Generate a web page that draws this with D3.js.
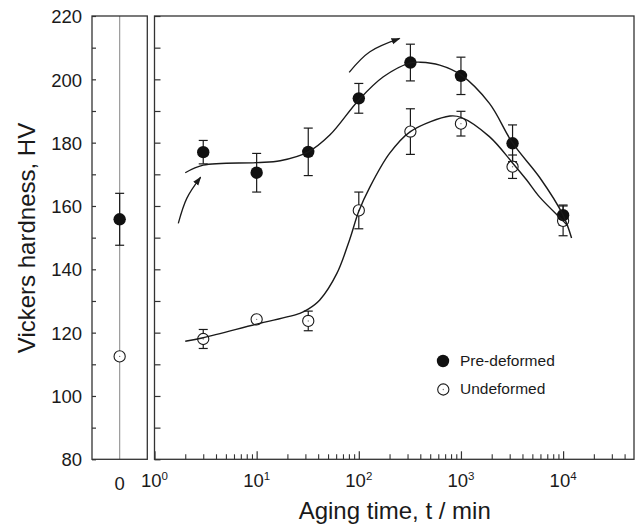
<!DOCTYPE html>
<html><head><meta charset="utf-8">
<script src="https://cdn.jsdelivr.net/npm/d3@7"></script>
<style>
html,body{margin:0;padding:0;background:#fff;}
svg{display:block;font-family:"Liberation Sans",Arial,Helvetica,sans-serif;}
</style></head>
<body>
<svg id="chart" width="638" height="524"></svg>
<script>
// ---- data ----
const agingTimes = [3, 10, 32, 100, 320, 1000, 3200, 10000];
const preDeformedHV = [177, 170.5, 177.1, 194, 205.3, 201.1, 179.8, 157.1];
const preDeformedErr = [3.7, 6.1, 7.5, 4.7, 5.8, 5.9, 5.8, 3.2];
const undeformedHV = [118, 124.2, 123.7, 158.6, 183.5, 186, 172.4, 155.3];
const undeformedErr = [3, 0, 3.1, 5.8, 7.2, 3.9, 3.7, 4.7];
const zeroCategory = ["0"];
const zeroPreHV = [155.8];
const zeroPreErr = [8.2];
const zeroUndHV = [112.5];
const zeroUndErr = [0];
const preFitT = [2.0, 3, 10, 17, 32, 52, 100, 174, 320, 400, 620, 1000, 1900, 3200, 5900, 10000, 12100];
const preFitHV = [170.5, 172.9, 173.7, 174.3, 177.1, 182.4, 193.5, 200.8, 205.2, 205.4, 204.5, 201.4, 192.4, 179.9, 169.0, 157.1, 149.9];
const undFitT = [2.0, 3, 10, 26.5, 32, 41.5, 61, 81, 100, 129, 200, 320, 780, 1000, 1900, 3200, 4400, 5900, 10000, 11100];
const undFitHV = [117.3, 118.4, 122.7, 126.1, 127.4, 130.3, 138.7, 149.2, 158.3, 166.1, 176.6, 183.5, 188.4, 188.0, 181.9, 173.6, 168.2, 162.8, 155.3, 153.7];
const arrow1T = [1.71, 2.07, 2.83];
const arrow1HV = [154.5, 162.4, 169.1];
const arrow2T = [80.5, 128.5, 251];
const arrow2HV = [202.2, 208.7, 212.9];
const yTicks = [80, 90, 100, 110, 120, 130, 140, 150, 160, 170, 180, 190, 200, 210, 220];
const xMajorExp = [0, 1, 2, 3, 4];
const legendLabels = ["Pre-deformed", "Undeformed"];
const yTitle = "Vickers hardness, HV";
const xTitle = "Aging time, t / min";

// ---- layout ----
const svg = d3.select("#chart");
const plotTop = 16, plotBottom = 459.3;
const y = d3.scaleLinear().domain([80, 220]).range([plotBottom, plotTop]);
const x = d3.scaleLog().domain([1, 50000]).range([154.5, 634.5]);
const x0 = d3.scalePoint().domain(zeroCategory).range([92, 147.3]).padding(0.5);
const ink = "#1a1a1a", frame = "#333";

svg.append("rect").attr("width", 638).attr("height", 524).attr("fill", "#fff");

// left panel
svg.append("line").attr("x1", x0("0")).attr("x2", x0("0")).attr("y1", plotTop).attr("y2", plotBottom)
  .attr("stroke", "#9a9a9a").attr("stroke-width", 1.2);

const yAxisL = d3.axisLeft(y).tickValues(yTicks).tickSize(-4).tickPadding(10)
  .tickFormat(d => d % 20 === 0 ? d : "");
const gL = svg.append("g").attr("transform", `translate(92,0)`).call(yAxisL);
gL.select(".domain").remove();
gL.selectAll(".tick line").attr("stroke", frame).attr("stroke-width", 1.2);
gL.selectAll(".tick text").attr("font-size", 18.5).attr("fill", ink)
  .attr("font-family", "Liberation Sans, Arial, sans-serif").attr("dy", "0.36em");

svg.append("rect").attr("x", 92).attr("y", plotTop).attr("width", 147.3 - 92).attr("height", plotBottom - plotTop)
  .attr("fill", "none").attr("stroke", frame).attr("stroke-width", 1.3);

// main panel axes
const yAxisM = d3.axisRight(y).tickValues(yTicks).tickSize(6).tickFormat("");
const gM = svg.append("g").attr("transform", `translate(${x(1)},0)`).call(yAxisM);
gM.select(".domain").remove();
gM.selectAll(".tick line").attr("stroke", frame).attr("stroke-width", 1.2);

const minorTicks = [];
xMajorExp.forEach(e => { for (let m = 2; m <= 9; m++) { const v = m * Math.pow(10, e); if (v < 50000) minorTicks.push(v); } });
const xAxisMinor = d3.axisBottom(x).tickValues(minorTicks).tickSize(-5).tickFormat("");
const gxm = svg.append("g").attr("transform", `translate(0,${plotBottom})`).call(xAxisMinor);
gxm.select(".domain").remove();
gxm.selectAll(".tick line").attr("stroke", frame).attr("stroke-width", 1.1);
const xAxisMajor = d3.axisBottom(x).tickValues(xMajorExp.map(e => Math.pow(10, e))).tickSize(-8).tickFormat("");
const gxM = svg.append("g").attr("transform", `translate(0,${plotBottom})`).call(xAxisMajor);
gxM.select(".domain").remove();
gxM.selectAll(".tick line").attr("stroke", frame).attr("stroke-width", 1.2);

// x tick labels with superscripts
xMajorExp.forEach(e => {
  const t = svg.append("text").attr("x", x(Math.pow(10, e))).attr("y", 487.3)
    .attr("text-anchor", "middle").attr("font-size", 18.5).attr("fill", ink);
  t.append("tspan").text("10");
  t.append("tspan").attr("font-size", 11.5).attr("dy", -7).text(e);
});
svg.append("text").attr("x", x0("0")).attr("y", 490).attr("text-anchor", "middle")
  .attr("font-size", 18.5).attr("fill", ink).text(zeroCategory[0]);

svg.append("rect").attr("x", x(1)).attr("y", plotTop).attr("width", x(50000) - x(1) - 0.5).attr("height", plotBottom - plotTop)
  .attr("fill", "none").attr("stroke", frame).attr("stroke-width", 1.3);

// titles
svg.append("text").attr("transform", `translate(35,238) rotate(-90)`).attr("text-anchor", "middle")
  .attr("font-size", 24).attr("fill", ink).text(yTitle);
svg.append("text").attr("x", 394.7).attr("y", 519).attr("text-anchor", "middle")
  .attr("font-size", 24).attr("fill", ink).text(xTitle);

// error bars
function errBar(cx, v, e) {
  if (!e) return;
  const g = svg.append("g").attr("stroke", ink).attr("stroke-width", 1.2);
  g.append("line").attr("x1", cx).attr("x2", cx).attr("y1", y(v + e)).attr("y2", y(v - e));
  g.append("line").attr("x1", cx - 4.5).attr("x2", cx + 4.5).attr("y1", y(v + e)).attr("y2", y(v + e));
  g.append("line").attr("x1", cx - 4.5).attr("x2", cx + 4.5).attr("y1", y(v - e)).attr("y2", y(v - e));
}
agingTimes.forEach((t, i) => errBar(x(t), undeformedHV[i], undeformedErr[i]));
agingTimes.forEach((t, i) => errBar(x(t), preDeformedHV[i], preDeformedErr[i]));
errBar(x0("0"), zeroPreHV[0], zeroPreErr[0]);
errBar(x0("0"), zeroUndHV[0], zeroUndErr[0]);

function hollow(cx, cy) {
  svg.append("circle").attr("cx", cx).attr("cy", cy).attr("r", 5.6)
    .attr("fill", "#fff").attr("stroke", ink).attr("stroke-width", 1.1);
  svg.append("circle").attr("cx", cx).attr("cy", cy).attr("r", 0.7).attr("fill", "#777");
}
function filled(cx, cy) {
  svg.append("circle").attr("cx", cx).attr("cy", cy).attr("r", 6.2).attr("fill", "#111");
}
agingTimes.forEach((t, i) => hollow(x(t), y(undeformedHV[i])));
agingTimes.forEach((t, i) => filled(x(t), y(preDeformedHV[i])));
hollow(x0("0"), y(zeroUndHV[0]));
filled(x0("0"), y(zeroPreHV[0]));

// fitted curves
const line = d3.line().x(d => x(d[0])).y(d => y(d[1])).curve(d3.curveCatmullRom.alpha(0.5));
svg.append("path").attr("d", line(preFitT.map((t, i) => [t, preFitHV[i]])))
  .attr("fill", "none").attr("stroke", ink).attr("stroke-width", 1.4);
svg.append("path").attr("d", line(undFitT.map((t, i) => [t, undFitHV[i]])))
  .attr("fill", "none").attr("stroke", ink).attr("stroke-width", 1.4);

// arrows
svg.append("defs").append("marker").attr("id", "ah").attr("viewBox", "0 0 10 10")
  .attr("refX", 9).attr("refY", 5).attr("markerWidth", 9).attr("markerHeight", 9)
  .attr("markerUnits", "userSpaceOnUse").attr("orient", "auto")
  .append("path").attr("d", "M0,1.5 L10,5 L0,8.5 Z").attr("fill", ink);
const arrowLine = d3.line().x(d => x(d[0])).y(d => y(d[1])).curve(d3.curveNatural);
[[arrow1T, arrow1HV], [arrow2T, arrow2HV]].forEach(([ts, hs]) => {
  svg.append("path").attr("d", arrowLine(ts.map((t, i) => [t, hs[i]])))
    .attr("fill", "none").attr("stroke", ink).attr("stroke-width", 1.3).attr("marker-end", "url(#ah)");
});

// legend
const lg = svg.append("g");
filled(443, 361);
hollow(443.3, 389.5);
legendLabels.forEach((l, i) => {
  lg.append("text").attr("x", 460).attr("y", 366 + i * 28.3).attr("font-size", 15.5)
    .attr("fill", ink).text(l);
});
</script>
</body></html>
